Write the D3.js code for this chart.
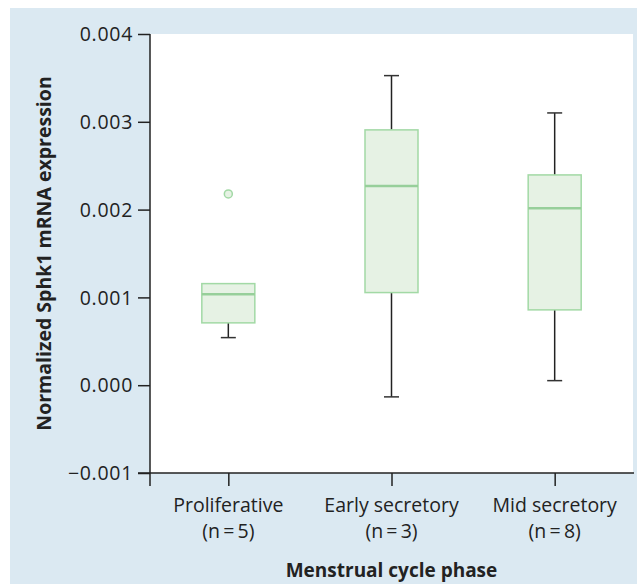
<!DOCTYPE html>
<html><head><meta charset="utf-8">
<script src="https://cdn.jsdelivr.net/npm/d3@7"></script>
<style>body{margin:0;background:#fff;}svg{display:block;}text{font-family:"Open Sans",sans-serif;fill:#222;}</style>
</head><body>
<svg id="chart" width="637" height="584"></svg>
<script>
const categories = ["Proliferative", "Early secretory", "Mid secretory"];
const sampleSizes = ["(n=5)", "(n=3)", "(n=8)"];
const whiskerLow = [0.000542, -0.000133, 0.000052];
const q1 = [0.000710, 0.001055, 0.000858];
const median = [0.001036, 0.002270, 0.002016];
const q3 = [0.001157, 0.002908, 0.002395];
const whiskerHigh = [0.001157, 0.003526, 0.003101];
const outliers = [[0.002179], [], []];
const yTicks = [-0.001, 0.000, 0.001, 0.002, 0.003, 0.004];

(function () {
const svg = d3.select("#chart");
const W = 637, H = 584;
const pL = 150, pR = 633, pT = 34, pB = 473;

svg.append("rect").attr("x", 10).attr("y", 8).attr("width", W - 10).attr("height", H - 8).attr("fill", "#dbe9f2");
svg.append("rect").attr("x", pL).attr("y", pT).attr("width", pR - pL).attr("height", pB - pT).attr("fill", "#fff");

const y = d3.scaleLinear().domain([-0.001, 0.004]).range([pB, pT]);
const x = d3.scalePoint().domain(categories).range([pL, pR]).padding(0.48);

const data = categories.map((c, i) => ({c, lo: whiskerLow[i], q1: q1[i], med: median[i], q3: q3[i], hi: whiskerHigh[i], out: outliers[i]}));

// axes
const yAxis = svg.append("g").attr("transform", `translate(${pL},0)`)
  .call(d3.axisLeft(y).tickValues(yTicks).tickFormat(d => d3.format(".3f")(d).replace("-", "\u2212")).tickSizeOuter(0).tickSize(12).tickPadding(5));
yAxis.select(".domain").remove();
yAxis.selectAll("line").attr("stroke", "#222").attr("stroke-width", 1.5);
yAxis.selectAll("text").style("font-size", "19.5px").style("letter-spacing", "0.7px").attr("fill", "#222").attr("dy", "0.34em");
svg.append("line").attr("x1", pL).attr("x2", pL).attr("y1", pT).attr("y2", pB + 13).attr("stroke", "#222").attr("stroke-width", 1.5);

const xAxis = svg.append("g").attr("transform", `translate(0,${pB})`)
  .call(d3.axisBottom(x).tickSize(13).tickSizeOuter(0).tickFormat(""));
xAxis.select(".domain").remove();
xAxis.selectAll("line").attr("stroke", "#222").attr("stroke-width", 1.5);
svg.append("line").attr("x1", pL - 12).attr("x2", pR + 1).attr("y1", pB).attr("y2", pB).attr("stroke", "#222").attr("stroke-width", 1.5);

// category labels
const lab = svg.append("g");
data.forEach((d, i) => {
  lab.append("text").attr("x", x(d.c)).attr("y", 512).attr("text-anchor", "middle").style("font-size", "19.5px").text(d.c);
  lab.append("text").attr("x", x(d.c)).attr("y", 538).attr("text-anchor", "middle").style("font-size", "19.5px").text(sampleSizes[i].replace("=", "\u2009=\u2009"));
});

svg.append("text").attr("x", (pL + pR) / 2).attr("y", 577).attr("text-anchor", "middle")
  .style("font-size", "19px").style("font-weight", "bold").text("Menstrual cycle phase");
svg.append("text").attr("transform", `translate(51,${(pT + pB) / 2}) rotate(-90)`).attr("text-anchor", "middle")
  .style("font-size", "19.5px").style("font-weight", "bold").text("Normalized Sphk1 mRNA expression");

// boxes
const bw = 53, cap = 15;
const g = svg.append("g");
const boxes = g.selectAll("g.box").data(data).join("g").attr("class", "box");
boxes.append("line").attr("x1", d => x(d.c)).attr("x2", d => x(d.c)).attr("y1", d => y(d.q3)).attr("y2", d => y(d.hi)).attr("stroke", "#222").attr("stroke-width", 1.5);
boxes.append("line").attr("x1", d => x(d.c)).attr("x2", d => x(d.c)).attr("y1", d => y(d.q1)).attr("y2", d => y(d.lo)).attr("stroke", "#222").attr("stroke-width", 1.5);
boxes.filter(d => d.hi > d.q3).append("line").attr("x1", d => x(d.c) - cap / 2).attr("x2", d => x(d.c) + cap / 2).attr("y1", d => y(d.hi)).attr("y2", d => y(d.hi)).attr("stroke", "#333").attr("stroke-width", 1.5);
boxes.append("line").attr("x1", d => x(d.c) - cap / 2).attr("x2", d => x(d.c) + cap / 2).attr("y1", d => y(d.lo)).attr("y2", d => y(d.lo)).attr("stroke", "#333").attr("stroke-width", 1.5);
boxes.append("rect").attr("x", d => x(d.c) - bw / 2).attr("width", bw).attr("y", d => y(d.q3)).attr("height", d => y(d.q1) - y(d.q3))
  .attr("fill", "#e6f2e4").attr("stroke", "#a2d9a5").attr("stroke-width", 1.5);
boxes.append("line").attr("x1", d => x(d.c) - bw / 2).attr("x2", d => x(d.c) + bw / 2).attr("y1", d => y(d.med)).attr("y2", d => y(d.med)).attr("stroke", "#97cf9a").attr("stroke-width", 2.5);
boxes.selectAll("circle").data(d => d.out.map(v => ({c: d.c, v}))).join("circle")
  .attr("cx", d => x(d.c)).attr("cy", d => y(d.v)).attr("r", 4).attr("fill", "#e6f2e4").attr("stroke", "#a2d9a5").attr("stroke-width", 1.5);
})();
</script>
</body></html>
